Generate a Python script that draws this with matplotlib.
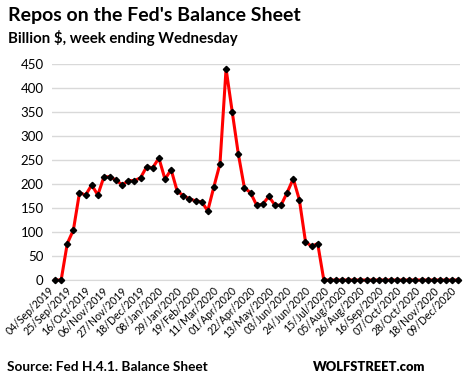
import matplotlib
matplotlib.use("Agg")
import matplotlib.pyplot as plt
from matplotlib.transforms import ScaledTranslation

# weekly repos on the Fed balance sheet, billion $, 04/Sep/2019 .. 09/Dec/2020
repos = [0, 0, 76, 104, 182, 177, 198, 177, 215, 215, 208, 198, 207, 207, 213,
         236, 234, 254, 210, 230, 185, 176, 169, 165, 163, 144, 194, 242, 440,
         351, 263, 192, 182, 156, 158, 174, 156, 156, 182, 211, 167, 80, 70, 76] + [0] * 23

tick_labels = ["04/Sep/2019", "25/Sep/2019", "16/Oct/2019", "06/Nov/2019", "27/Nov/2019",
               "18/Dec/2019", "08/Jan/2020", "29/Jan/2020", "19/Feb/2020", "11/Mar/2020",
               "01/Apr/2020", "22/Apr/2020", "13/May/2020", "03/Jun/2020", "24/Jun/2020",
               "15/Jul/2020", "05/Aug/2020", "26/Aug/2020", "16/Sep/2020", "07/Oct/2020",
               "28/Oct/2020", "18/Nov/2020", "09/Dec/2020"]
y_ticks = [0, 50, 100, 150, 200, 250, 300, 350, 400, 450]

plt.rcParams['font.family'] = ['Lato', 'DejaVu Sans']

fig = plt.figure(figsize=(4.63, 3.84), dpi=100)
ax = fig.add_axes([52 / 463, 104 / 384, 408 / 463, 216 / 384])

x = list(range(len(repos)))
ax.plot(x, repos, color='#ff0000', lw=2.2, zorder=3, clip_on=False)
ax.plot(x, repos, ls='none', marker='D', ms=3.2, color='black', zorder=4, clip_on=False)

ax.set_xlim(-0.5, len(repos) - 0.7)
ax.set_ylim(0, 450)
ax.set_yticks(y_ticks)
ax.set_xticks(x[::3])
ax.set_xticklabels([])
# rotated date labels, placed by hand so their right end sits near the tick
trans = ax.get_xaxis_transform() + ScaledTranslation(-7 / 100, -5 / 100, fig.dpi_scale_trans)
for xi, lab in zip(x[::3], tick_labels):
    ax.text(xi, 0, lab, transform=trans, rotation=45, ha='right', va='top',
            rotation_mode='anchor', fontsize=7.6, clip_on=False)
ax.tick_params(axis='y', labelsize=9.5, length=0, pad=6)
ax.tick_params(axis='x', length=0)
ax.grid(axis='y', color='#d9d9d9', lw=1)
ax.set_axisbelow(True)
for s in ['top', 'right', 'left']:
    ax.spines[s].set_visible(False)
ax.spines['bottom'].set_color('#d9d9d9')

fig.text(8 / 463, 1 - 16 / 384, "Repos on the Fed's Balance Sheet", fontsize=14,
         fontweight='bold', va='center')
fig.text(8 / 463, 1 - 38 / 384, "Billion $, week ending Wednesday", fontsize=10.8,
         fontweight='bold', va='center')
fig.text(7 / 463, 1 - 367 / 384, "Source: Fed H.4.1. Balance Sheet", fontsize=9.8,
         fontweight='bold', va='center')
fig.text(313 / 463, 1 - 367 / 384, "WOLFSTREET.com", fontsize=9.3,
         fontweight='heavy', va='center')

fig.savefig("out.png", dpi=100)
